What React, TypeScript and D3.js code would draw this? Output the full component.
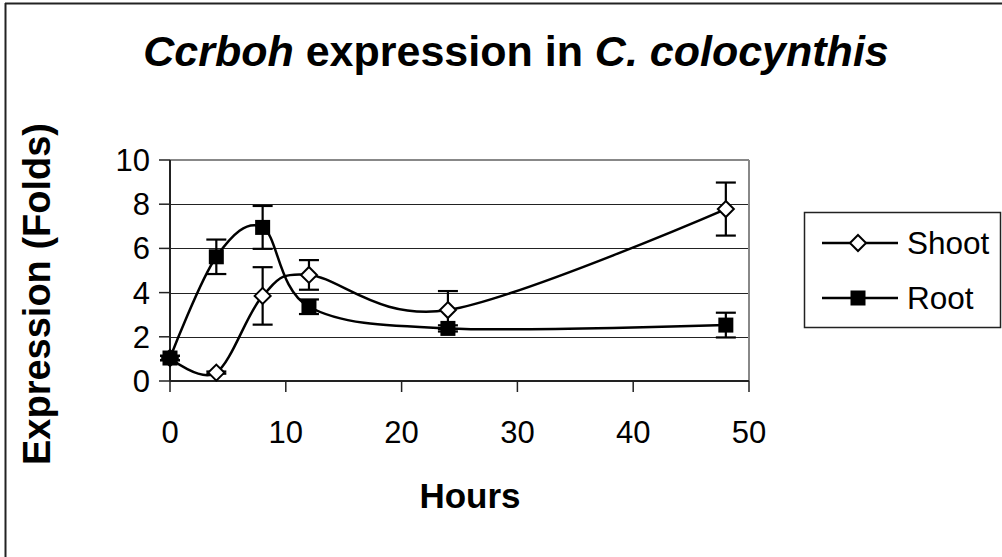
import React from "react";
import * as d3 from "d3";

const hours = [0, 4, 8, 12, 24, 48];
const shootValues = [1.04, 0.38, 3.85, 4.8, 3.21, 7.78];
const shootErrors = [0.1, 0.05, 1.3, 0.67, 0.86, 1.2];
const rootValues = [1.04, 5.62, 6.95, 3.36, 2.38, 2.53];
const rootErrors = [0.1, 0.78, 0.97, 0.33, 0.14, 0.56];
const xTicks = [0, 10, 20, 30, 40, 50];
const yTicks = [0, 2, 4, 6, 8, 10];
const seriesNames = ["Shoot", "Root"];

const FONT = "'Liberation Sans', Arial, sans-serif";

export default function App() {
  const x = d3.scaleLinear().domain([0, 50]).range([170, 749]);
  const y = d3.scaleLinear().domain([0, 10]).range([381, 160]);
  const line = d3
    .line<[number, number]>()
    .x((d) => x(d[0]))
    .y((d) => y(d[1]))
    .curve(d3.curveCatmullRom.alpha(0));

  const shootPts = hours.map((h, i) => [h, shootValues[i]] as [number, number]);
  const rootPts = hours.map((h, i) => [h, rootValues[i]] as [number, number]);

  const errBars = (vals: number[], errs: number[], key: string) =>
    hours.map((h, i) => {
      const cx = x(h);
      const top = y(vals[i] + errs[i]);
      const bot = y(vals[i] - errs[i]);
      return (
        <g key={key + i} stroke="#000" strokeWidth={2.2}>
          <line x1={cx} x2={cx} y1={top} y2={bot} />
          <line x1={cx - 10} x2={cx + 10} y1={top} y2={top} />
          <line x1={cx - 10} x2={cx + 10} y1={bot} y2={bot} />
        </g>
      );
    });

  const diamond = (cx: number, cy: number, key: string) => (
    <path
      key={key}
      d={`M${cx},${cy - 8}L${cx + 8},${cy}L${cx},${cy + 8}L${cx - 8},${cy}Z`}
      fill="#fff"
      stroke="#000"
      strokeWidth={2}
    />
  );
  const square = (cx: number, cy: number, key: string) => (
    <rect key={key} x={cx - 7.5} y={cy - 7.5} width={15} height={15} fill="#000" />
  );

  return (
    <svg
      width={1002}
      height={557}
      style={{ position: "absolute", left: 0, top: 0, background: "#fff" }}
    >
      {/* outer frame */}
      <line x1={5.5} x2={5.5} y1={3} y2={557} stroke="#222" strokeWidth={2} />
      <line x1={5} x2={1002} y1={3.5} y2={3.5} stroke="#222" strokeWidth={2} />

      {/* title */}
      <text
        x={516}
        y={66}
        textAnchor="middle"
        fontFamily={FONT}
        fontWeight="bold"
        fontSize={43}
        fill="#000"
      >
        <tspan fontStyle="italic">Ccrboh</tspan>
        <tspan> expression in </tspan>
        <tspan fontStyle="italic">C. colocynthis</tspan>
      </text>

      {/* gridlines */}
      {yTicks.slice(1, -1).map((t) => (
        <line
          key={"g" + t}
          x1={x(0)}
          x2={x(50)}
          y1={Math.round(y(t)) + 0.5}
          y2={Math.round(y(t)) + 0.5}
          stroke="#222"
          strokeWidth={1}
        />
      ))}
      {/* plot border top/right */}
      <line x1={x(0)} x2={x(50)} y1={y(10)} y2={y(10)} stroke="#888" strokeWidth={2} />
      <line x1={x(50)} x2={x(50)} y1={y(10)} y2={y(0)} stroke="#888" strokeWidth={2} />

      {/* axes */}
      <line x1={x(0)} x2={x(0)} y1={y(10)} y2={y(0)} stroke="#222" strokeWidth={2} />
      <line x1={x(0)} x2={x(50)} y1={y(0)} y2={y(0)} stroke="#222" strokeWidth={2} />
      {yTicks.map((t) => (
        <g key={"yt" + t}>
          <line x1={x(0) - 11} x2={x(0)} y1={y(t)} y2={y(t)} stroke="#222" strokeWidth={1.5} />
          <text
            x={150}
            y={y(t) + 11}
            textAnchor="end"
            fontFamily={FONT}
            fontSize={31}
            fill="#000"
          >
            {t}
          </text>
        </g>
      ))}
      {xTicks.map((t) => (
        <g key={"xt" + t}>
          <line x1={x(t)} x2={x(t)} y1={y(0)} y2={y(0) + 11} stroke="#222" strokeWidth={1.5} />
          <text
            x={x(t)}
            y={443}
            textAnchor="middle"
            fontFamily={FONT}
            fontSize={31}
            fill="#000"
          >
            {t}
          </text>
        </g>
      ))}

      {/* axis titles */}
      <text
        x={470}
        y={508}
        textAnchor="middle"
        fontFamily={FONT}
        fontWeight="bold"
        fontSize={35}
        fill="#000"
      >
        Hours
      </text>
      <text
        transform="translate(50,294) rotate(-90)"
        textAnchor="middle"
        fontFamily={FONT}
        fontWeight="bold"
        fontSize={38}
        fill="#000"
      >
        Expression (Folds)
      </text>

      {/* series lines */}
      <path d={line(shootPts) || ""} fill="none" stroke="#000" strokeWidth={2.5} />
      <path d={line(rootPts) || ""} fill="none" stroke="#000" strokeWidth={2.5} />

      {/* error bars */}
      {errBars(shootValues, shootErrors, "se")}
      {errBars(rootValues, rootErrors, "re")}

      {/* markers */}
      {shootPts.map((p, i) => diamond(x(p[0]), y(p[1]), "sm" + i))}
      {rootPts.map((p, i) => square(x(p[0]), y(p[1]), "rm" + i))}

      {/* legend */}
      <rect x={804.5} y={212.5} width={196} height={115} fill="#fff" stroke="#222" strokeWidth={1.5} />
      <line x1={822} x2={898} y1={243} y2={243} stroke="#000" strokeWidth={2.5} />
      {diamond(858, 243, "ld")}
      <text x={907} y={254} fontFamily={FONT} fontSize={31.5} fill="#000">
        {seriesNames[0]}
      </text>
      <line x1={822} x2={898} y1={298} y2={298} stroke="#000" strokeWidth={2.5} />
      {square(858, 298, "lr")}
      <text x={907} y={309} fontFamily={FONT} fontSize={31.5} fill="#000">
        {seriesNames[1]}
      </text>
    </svg>
  );
}
